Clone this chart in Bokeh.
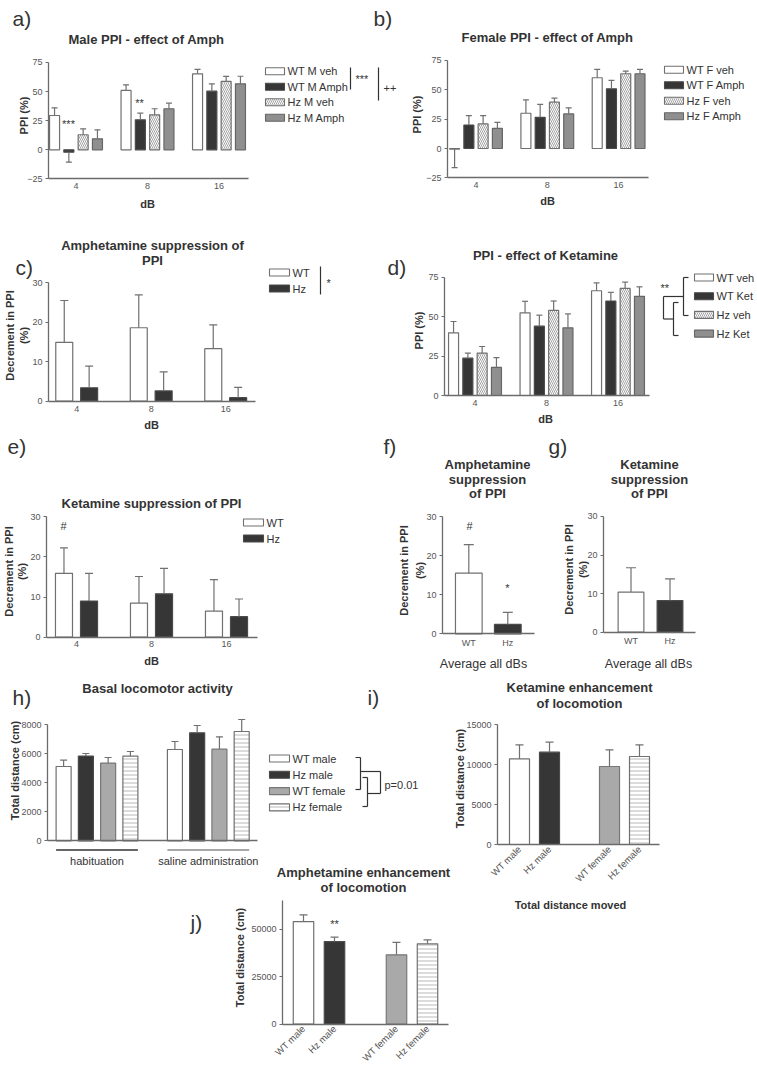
import math
from bokeh.plotting import figure
from bokeh.models import Range1d, FixedTicker, Label, Spacer
from bokeh.layouts import row, column
from bokeh.embed import file_html
from bokeh.resources import INLINE

FONT = "Liberation Sans"
TXT = "#333333"
TICKC = "#555555"
AXC = "#6b6b6b"
EDGE = "#707070"

# ---------------- data ----------------
db_levels = ["4", "8", "16"]

a_series = ["WT M veh", "WT M Amph", "Hz M veh", "Hz M Amph"]
a_wt_veh = [29.4, 50.9, 65.2]
a_wt_veh_err = [6.6, 4.8, 3.7]
a_wt_amph = [-2.0, 25.7, 50.3]
a_wt_amph_err = [8.6, 5.7, 6.3]
a_hz_veh = [12.9, 30.0, 58.6]
a_hz_veh_err = [5.1, 5.2, 4.3]
a_hz_amph = [9.4, 35.2, 56.6]
a_hz_amph_err = [7.7, 4.8, 6.5]

b_series = ["WT F veh", "WT F Amph", "Hz F veh", "Hz F Amph"]
b_wt_veh = [-0.5, 30.0, 60.2]
b_wt_veh_err = [15.7, 11.4, 7.1]
b_wt_amph = [20.0, 26.5, 50.8]
b_wt_amph_err = [8.0, 11.1, 7.1]
b_hz_veh = [20.9, 39.4, 63.6]
b_hz_veh_err = [7.1, 3.4, 2.3]
b_hz_amph = [17.1, 29.4, 63.6]
b_hz_amph_err = [5.1, 5.2, 3.7]

geno_series = ["WT", "Hz"]
c_wt = [14.9, 18.6, 13.3]
c_wt_err = [10.6, 8.3, 6.0]
c_hz = [3.4, 2.6, 0.9]
c_hz_err = [5.5, 4.8, 2.6]

d_series = ["WT veh", "WT Ket", "Hz veh", "Hz Ket"]
d_wt_veh = [39.8, 52.5, 66.5]
d_wt_veh_err = [7.2, 7.3, 5.0]
d_wt_ket = [23.7, 44.0, 60.0]
d_wt_ket_err = [3.2, 7.0, 5.5]
d_hz_veh = [26.9, 54.0, 68.0]
d_hz_veh_err = [4.2, 6.0, 4.0]
d_hz_ket = [17.8, 43.0, 63.0]
d_hz_ket_err = [6.2, 8.8, 6.0]

e_wt = [15.9, 8.5, 6.5]
e_wt_err = [6.3, 6.6, 7.8]
e_hz = [9.0, 10.8, 5.1]
e_hz_err = [6.9, 6.3, 4.4]

f_mean = [15.5, 2.4]
f_err = [7.3, 3.1]
g_mean = [10.4, 8.2]
g_err = [6.3, 5.6]

h_phases = ["habituation", "saline administration"]
h_series = ["WT male", "Hz male", "WT female", "Hz female"]
h_wt_male = [5124, 6297]
h_wt_male_err = [441, 553]
h_hz_male = [5841, 7448]
h_hz_male_err = [180, 504]
h_wt_female = [5359, 6322]
h_wt_female_err = [386, 850]
h_hz_female = [5841, 7538]
h_hz_female_err = [318, 828]

loco_groups = ["WT male", "Hz male", "WT female", "Hz female"]
loco_pos = [0, 1, 3, 4]
i_mean = [10710, 11540, 9750, 11000]
i_err = [1750, 1250, 2080, 1460]
j_mean = [53900, 43400, 36400, 42200]
j_err = [3570, 2300, 6600, 2100]

# ---------------- styles ----------------
STYLES = {
    "white": dict(fill_color="white", line_color=EDGE),
    "dark": dict(fill_color="#363636", line_color="#4a4a4a"),
    "diag": dict(fill_color="white", line_color=EDGE, hatch_pattern="\\",
                 hatch_color="#8a8a8a", hatch_scale=4, hatch_weight=0.8),
    "gray": dict(fill_color="#8f8f8f", line_color="#666666"),
    "lgray": dict(fill_color="#a9a9a9", line_color="#777777"),
    "hstripe": dict(fill_color="white", line_color=EDGE, hatch_pattern="-",
                    hatch_color="#b8b8b8", hatch_scale=4, hatch_weight=1),
}
ppi_styles = ["white", "dark", "diag", "gray"]
geno_styles = ["white", "dark"]
loco_styles = ["white", "dark", "lgray", "hstripe"]
offs4 = [-0.3, -0.1, 0.1, 0.3]
offs2 = [-0.167, 0.167]


class Panel:
    """One figure whose frame is the whole figure; axes drawn at fixed locations."""

    def __init__(self, box, X0, PX, Y0, PY):
        L, T, R, B = box
        self.X0, self.PX, self.Y0, self.PY = X0, PX, Y0, PY
        p = figure(width=R - L, height=B - T, output_backend="svg",
                   toolbar_location=None,
                   x_range=Range1d(self.dx(L), self.dx(R)),
                   y_range=Range1d(self.dy(B), self.dy(T)),
                   min_border=0)
        p.outline_line_color = None
        p.grid.visible = False
        p.background_fill_color = "white"
        p.border_fill_color = "white"
        self.p = p

    def dx(self, px):
        return (px - self.X0) / self.PX

    def dy(self, py):
        return (self.Y0 - py) / self.PY

    def text(self, px, py, s, size=11, bold=False, align="left", color=TXT,
             angle=0, star=False):
        if star:
            py = py + 0.22 * size
        self.p.add_layout(Label(x=self.dx(px), y=self.dy(py), text=s,
                                text_font=FONT, text_font_size=f"{size}px",
                                text_font_style="bold" if bold else "normal",
                                text_align=align, text_baseline="middle",
                                text_color=color, angle=angle))

    def ylab(self, px, py, s, size=11):
        self.text(px, py, s, size, bold=True, align="center", angle=math.pi / 2)

    def bars(self, xs, vals, errs, width, style, cap):
        p = self.p
        p.vbar(x=xs, top=vals, bottom=0, width=width, line_width=1.2,
               **STYLES[style])
        ends = [v + e if v >= 0 else v - e for v, e in zip(vals, errs)]
        p.segment(x0=xs, y0=vals, x1=xs, y1=ends, line_color=EDGE,
                  line_width=1.2)
        p.scatter(x=xs, y=ends, marker="dash", size=cap, line_color=EDGE,
                  line_width=1.2)

    def legend(self, names, styles, left, y_first, pitch, w=19, h=7, size=11):
        for k, (n, s) in enumerate(zip(names, styles)):
            y = y_first + k * pitch
            self.p.rect(x=[self.dx(left + w / 2)], y=[self.dy(y)], width=w,
                        height=h, width_units="screen", height_units="screen",
                        line_width=1.1, **STYLES[s])
            self.text(left + w + 3, y, n, size)

    def lines(self, segs, color=TXT, width=1.2):
        self.p.segment(x0=[self.dx(s[0]) for s in segs],
                       y0=[self.dy(s[1]) for s in segs],
                       x1=[self.dx(s[2]) for s in segs],
                       y1=[self.dy(s[3]) for s in segs],
                       line_color=color, line_width=width)

    def axes(self, yaxis_px, yticks, ybounds, xaxis_y, xticks, xlabels, xend_px,
             x_standoff=4, x_orient=None, xsize=9, xcolor=TICKC):
        p = self.p
        ya = p.yaxis[0]
        ya.fixed_location = self.dx(yaxis_px)
        ya.ticker = FixedTicker(ticks=yticks)
        ya.bounds = ybounds
        ya.axis_line_color = AXC
        ya.axis_line_width = 1.3
        ya.major_tick_line_color = AXC
        ya.major_tick_line_width = 1.2
        ya.major_tick_out = 3
        ya.major_tick_in = 0
        ya.minor_tick_line_color = None
        ya.major_label_standoff = 3
        ya.major_label_text_font = FONT
        ya.major_label_text_font_size = "9px"
        ya.major_label_text_color = TICKC

        xa = p.xaxis[0]
        xa.fixed_location = xaxis_y
        xa.ticker = FixedTicker(ticks=xticks)
        xa.major_label_overrides = {t: l for t, l in zip(xticks, xlabels)}
        xa.bounds = (self.dx(yaxis_px), self.dx(xend_px))
        xa.axis_line_color = AXC
        xa.axis_line_width = 1.3
        xa.major_tick_line_color = None
        xa.minor_tick_line_color = None
        xa.major_tick_out = 0
        xa.major_tick_in = 0
        xa.major_label_standoff = x_standoff
        xa.major_label_text_font = FONT
        xa.major_label_text_font_size = f"{xsize}px"
        xa.major_label_text_color = xcolor
        if x_orient is not None:
            xa.major_label_orientation = x_orient


grp3 = list(range(len(db_levels)))
grp2 = list(range(len(geno_series)))

# ---------------- panel a ----------------
pa = Panel((2, 2, 400, 212), X0=75.5, PX=71.5, Y0=149.3, PY=1.166)
for k, (v, e) in enumerate(zip([a_wt_veh, a_wt_amph, a_hz_veh, a_hz_amph],
                               [a_wt_veh_err, a_wt_amph_err, a_hz_veh_err, a_hz_amph_err])):
    pa.bars([g + offs4[k] for g in grp3], v, e, 0.14, ppi_styles[k], 6)
pa.axes(48, [-25, 0, 25, 50, 75], (-25, 75), -25, grp3, db_levels, 248, 4)
pa.ylab(23.5, 115, "PPI (%)")
pa.text(147, 203, "dB", 11, bold=True, align="center")
pa.text(12, 18, "a)", 21)
pa.text(373, 18, "b)", 21)
pa.text(146, 39, "Male PPI - effect of Amph", 13, bold=True, align="center")
pa.legend(a_series, ppi_styles, 265, 70.7, 15.5)
pa.lines([(350, 67, 350, 89), (378, 67, 378, 100)])
pa.text(355, 76, "***", 11, star=True)
pa.text(383, 87, "++", 11)
pa.text(68, 121, "***", 11, align="center", star=True)
pa.text(139, 100, "**", 11, align="center", star=True)

# ---------------- panel b ----------------
pb = Panel((400, 2, 756, 212), X0=475.5, PX=71.3, Y0=148, PY=1.175)
for k, (v, e) in enumerate(zip([b_wt_veh, b_wt_amph, b_hz_veh, b_hz_amph],
                               [b_wt_veh_err, b_wt_amph_err, b_hz_veh_err, b_hz_amph_err])):
    pb.bars([g + offs4[k] for g in grp3], v, e, 0.14, ppi_styles[k], 6)
pb.axes(447, [-25, 0, 25, 50, 75], (-25, 75), -25, grp3, db_levels, 648, 4)
pb.ylab(416.5, 114, "PPI (%)")
pb.text(547, 200, "dB", 11, bold=True, align="center")
pb.text(547, 37, "Female PPI - effect of Amph", 13, bold=True, align="center")
pb.legend(b_series, ppi_styles, 664, 69.3, 15.5)

# ---------------- panel c ----------------
pc = Panel((2, 212, 385, 434), X0=76.2, PX=74.5, Y0=400.7, PY=3.95)
for k, (v, e) in enumerate(zip([c_wt, c_hz], [c_wt_err, c_hz_err])):
    pc.bars([g + offs2[k] for g in grp3], v, e, 0.228, geno_styles[k], 8)
pc.axes(48, [0, 10, 20, 30], (0, 30), 0, grp3, db_levels, 255, 5)
pc.ylab(9, 335, "Decrement in PPI")
pc.ylab(23, 335, "(%)")
pc.text(151, 424, "dB", 11, bold=True, align="center")
pc.text(15, 267, "c)", 21)
pc.text(152, 245, "Amphetamine suppression of", 13, bold=True, align="center")
pc.text(152, 260, "PPI", 13, bold=True, align="center")
pc.legend(geno_series, geno_styles, 269, 272, 16, w=20)
pc.lines([(320, 266, 320, 294)])
pc.text(326, 280, "*", 11, star=True)

# ---------------- panel d ----------------
pd_ = Panel((385, 212, 756, 434), X0=474.5, PX=71.5, Y0=395, PY=1.575)
for k, (v, e) in enumerate(zip([d_wt_veh, d_wt_ket, d_hz_veh, d_hz_ket],
                               [d_wt_veh_err, d_wt_ket_err, d_hz_veh_err, d_hz_ket_err])):
    pd_.bars([g + offs4[k] for g in grp3], v, e, 0.14, ppi_styles[k], 6)
pd_.axes(444, [0, 25, 50, 75], (0, 75), 0, grp3, db_levels, 649, 4)
pd_.ylab(418, 330, "PPI (%)")
pd_.text(545, 418, "dB", 11, bold=True, align="center")
pd_.text(387, 267, "d)", 21)
pd_.text(545, 255, "PPI - effect of Ketamine", 13, bold=True, align="center")
pd_.legend(d_series, ppi_styles, 694, 277, 18.7)
pd_.lines([(683, 277, 683, 315), (683, 277, 688, 277), (683, 315, 688, 315),
           (673, 302, 673, 335), (673, 302, 678, 302), (673, 335, 678, 335),
           (663, 296, 683, 296), (663, 318.5, 673, 318.5), (663, 296, 663, 318.5)])
pd_.text(660, 285, "**", 11, star=True)

# ---------------- panel e ----------------
pe = Panel((2, 434, 378, 672), X0=76, PX=75, Y0=636.7, PY=4.02)
for k, (v, e) in enumerate(zip([e_wt, e_hz], [e_wt_err, e_hz_err])):
    pe.bars([g + offs2[k] for g in grp3], v, e, 0.227, geno_styles[k], 8)
pe.axes(46, [0, 10, 20, 30], (0, 30), 0, grp3, db_levels, 257, 4)
pe.ylab(8, 571, "Decrement in PPI")
pe.ylab(21, 571, "(%)")
pe.text(151, 660, "dB", 11, bold=True, align="center")
pe.text(7, 446, "e)", 21)
pe.text(151, 503, "Ketamine suppression of PPI", 13, bold=True, align="center")
pe.legend(geno_series, geno_styles, 243, 522, 16, w=20)
pe.text(63, 525, "#", 11, align="center")

# ---------------- panel f ----------------
pf = Panel((378, 434, 547, 672), X0=468.3, PX=39, Y0=633.3, PY=3.91)
for k in grp2:
    pf.bars([k], [f_mean[k]], [f_err[k]], 0.684, geno_styles[k], 10)
pf.axes(442, [0, 10, 20, 30], (0, 30), 0, grp2, geno_series, 534, 4)
pf.ylab(403.5, 570, "Decrement in PPI")
pf.ylab(419, 570, "(%)")
pf.text(383, 446, "f)", 21)
for k, s in enumerate(["Amphetamine", "suppression", "of PPI"]):
    pf.text(487, 464 + 14.5 * k, s, 13, bold=True, align="center")
pf.text(469, 525, "#", 11, align="center")
pf.text(507, 585, "*", 11, align="center", star=True)
pf.text(483, 663, "Average all dBs", 12.5, align="center")

# ---------------- panel g ----------------
pg = Panel((547, 434, 756, 672), X0=630.5, PX=39, Y0=631.7, PY=3.86)
for k in grp2:
    pg.bars([k], [g_mean[k]], [g_err[k]], 0.66, geno_styles[k], 10)
pg.axes(603, [0, 10, 20, 30], (0, 30), 0, grp2, geno_series, 695, 4)
pg.ylab(568, 569, "Decrement in PPI")
pg.ylab(582.5, 569, "(%)")
pg.text(548, 446, "g)", 21)
for k, s in enumerate(["Ketamine", "suppression", "of PPI"]):
    pg.text(649, 464 + 14.5 * k, s, 13, bold=True, align="center")
pg.text(648, 663, "Average all dBs", 12.5, align="center")

# ---------------- panel h ----------------
grp_h = list(range(len(h_phases)))
ph = Panel((2, 672, 453, 866), X0=96.5, PX=111.3, Y0=840.3, PY=0.0145)
h_w = 0.135
for k, (v, e) in enumerate(zip([h_wt_male, h_hz_male, h_wt_female, h_hz_female],
                               [h_wt_male_err, h_hz_male_err, h_wt_female_err, h_hz_female_err])):
    ph.bars([g + offs4[k] for g in grp_h], v, e, h_w, loco_styles[k], 7)
ph.axes(47, [0, 2000, 4000, 6000, 8000], (0, 8000), 0, grp_h, h_phases, 257,
        14, xsize=11, xcolor=TXT)
ul_y = ph.dy(849.5)
ph.p.segment(x0=[g + offs4[0] - h_w / 2 for g in grp_h], y0=[ul_y] * len(grp_h),
             x1=[g + offs4[-1] + h_w / 2 for g in grp_h], y1=[ul_y] * len(grp_h),
             line_color=["#333333", "#8a8a8a"], line_width=1.4)
ph.ylab(14, 770, "Total distance (cm)")
ph.text(12, 697, "h)", 21)
ph.text(367, 697, "i)", 21)
ph.text(157, 688, "Basal locomotor activity", 13, bold=True, align="center")
ph.legend(h_series, loco_styles, 269, 758, 16.3, w=20)
ph.lines([(360, 757, 360, 789), (355, 757, 360, 757), (355, 789, 360, 789),
          (367, 777, 367, 806), (362, 777, 367, 777), (362, 806, 367, 806),
          (360, 771, 380, 771), (380, 771, 380, 793), (367, 793, 380, 793)])
ph.text(384, 784, "p=0.01", 11)

# ---------------- panel i ----------------
pi_ = Panel((453, 672, 756, 912), X0=519, PX=30, Y0=844, PY=0.008)
for k in range(len(loco_groups)):
    pi_.bars([loco_pos[k]], [i_mean[k]], [i_err[k]], 0.667, loco_styles[k], 8)
pi_.axes(497, [0, 5000, 10000, 15000], (0, 15000), 0, loco_pos, loco_groups, 659,
         3, x_orient=math.pi / 4, xsize=9.5)
pi_.ylab(459.5, 778, "Total distance (cm)")
pi_.text(570, 904, "Total distance moved", 11, bold=True, align="center")
pi_.text(579, 687, "Ketamine enhancement", 13, bold=True, align="center")
pi_.text(579, 703, "of locomotion", 13, bold=True, align="center")

# ---------------- panel j ----------------
pj = Panel((2, 866, 453, 1068), X0=303, PX=31, Y0=1023.5, PY=0.0019)
for k in range(len(loco_groups)):
    pj.bars([loco_pos[k]], [j_mean[k]], [j_err[k]], 0.66, loco_styles[k], 8)
pj.axes(282, [0, 25000, 50000], (0, 65000), 0, loco_pos, loco_groups, 448,
        3, x_orient=math.pi / 4, xsize=9.5)
pj.ylab(239, 957, "Total distance (cm)")
pj.text(190, 922, "j)", 21)
pj.text(363, 872, "Amphetamine enhancement", 13, bold=True, align="center")
pj.text(363, 887, "of locomotion", 13, bold=True, align="center")
pj.text(334, 921, "**", 11, align="center", star=True)

grid = column(
    row(pa.p, pb.p),
    row(pc.p, pd_.p),
    row(pe.p, pf.p, pg.p),
    row(column(ph.p, pj.p), pi_.p),
)
layout = column(Spacer(width=10, height=2), row(Spacer(width=2, height=10), grid))

open("out.html", "w").write(file_html(layout, INLINE))
